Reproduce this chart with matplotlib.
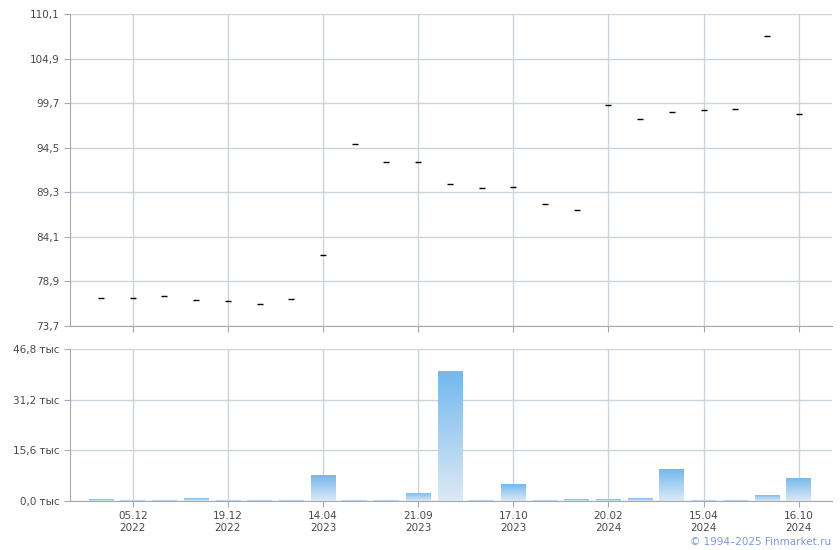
import numpy as np
import matplotlib
matplotlib.use("Agg")
import matplotlib.pyplot as plt

plt.rcParams['font.family'] = ['DejaVu Sans']

# цены (% от номинала)
prices = [76.93, 76.93, 77.2, 76.7, 76.58, 76.23, 76.81, 81.95, 94.9, 92.8, 92.8,
          90.23, 89.76, 89.88, 87.9, 87.2, 99.45, 97.82, 98.63, 98.87, 98.98, 107.5, 98.4]
# объём, тыс
volumes = [0.6, 0.3, 0.3, 0.9, 0.3, 0.3, 0.3, 8.0, 0.3, 0.3, 2.5,
           40.0, 0.3, 5.2, 0.3, 0.6, 0.6, 0.9, 9.85, 0.3, 0.3, 1.85, 7.1]
tick_idx = [1, 4, 7, 10, 13, 16, 19, 22]
tick_labels = ["05.12\n2022", "19.12\n2022", "14.04\n2023", "21.09\n2023",
               "17.10\n2023", "20.02\n2024", "15.04\n2024", "16.10\n2024"]
price_ticks = [73.7, 78.9, 84.1, 89.3, 94.5, 99.7, 104.9, 110.1]
vol_ticks = [0.0, 15.6, 31.2, 46.8]

grid_c = "#ccd3da"
spine_c = "#a6aab0"
text_c = "#4a4a4a"

fig = plt.figure(figsize=(8.4, 5.5), dpi=100)
ax1 = fig.add_axes([70/840, 1-326/550, 762/840, 312/550])
ax2 = fig.add_axes([70/840, 1-501/550, 762/840, 152/550])

x = np.arange(len(prices))
xlim = (-0.98, 23.05)

def style(ax):
    for s in ["top", "right"]:
        ax.spines[s].set_visible(False)
    for s in ["left", "bottom"]:
        ax.spines[s].set_color(spine_c)
    ax.set_xlim(*xlim)
    ax.set_xticks(tick_idx)
    ax.grid(True, color=grid_c, linewidth=1)
    ax.set_axisbelow(True)
    ax.tick_params(colors=spine_c, labelcolor=text_c, labelsize=7.5, length=4)

# верхний график
style(ax1)
ax1.scatter(x, prices, marker="_", s=16, color="black", linewidths=1.0, zorder=3)
ax1.set_ylim(73.7, 110.1)
ax1.set_yticks(price_ticks)
ax1.set_yticklabels([f"{v:.1f}".replace(".", ",") for v in price_ticks])
ax1.set_xticklabels([])

# нижний график
style(ax2)
ax2.set_ylim(0, 46.8)
ax2.set_yticks(vol_ticks)
ax2.set_yticklabels([f"{v:.1f}".replace(".", ",") + " тыс" for v in vol_ticks])
ax2.set_xticks(tick_idx)
ax2.set_xticklabels(tick_labels, linespacing=1.2)

bars = ax2.bar(x, volumes, width=0.78, color="none", edgecolor="none", zorder=2)
grad = np.linspace(1, 0, 256).reshape(-1, 1)
cmap = matplotlib.colors.LinearSegmentedColormap.from_list("g", ["#dde9f6", "#73b8ee"])
for b in bars:
    x0, y0 = b.get_x(), b.get_y()
    w, h = b.get_width(), b.get_height()
    im = ax2.imshow(grad, cmap=cmap, aspect="auto", extent=[x0, x0 + w, y0, y0 + h],
                    zorder=2, vmin=0, vmax=1)
    im.set_clip_path(b)
ax2.set_xlim(*xlim)
ax2.set_ylim(0, 46.8)

fig.text(831/840, 1-542/550, "© 1994–2025 Finmarket.ru", color="#7f97e0",
         fontsize=7.5, ha="right", va="center")

fig.savefig("out.png", dpi=100)
